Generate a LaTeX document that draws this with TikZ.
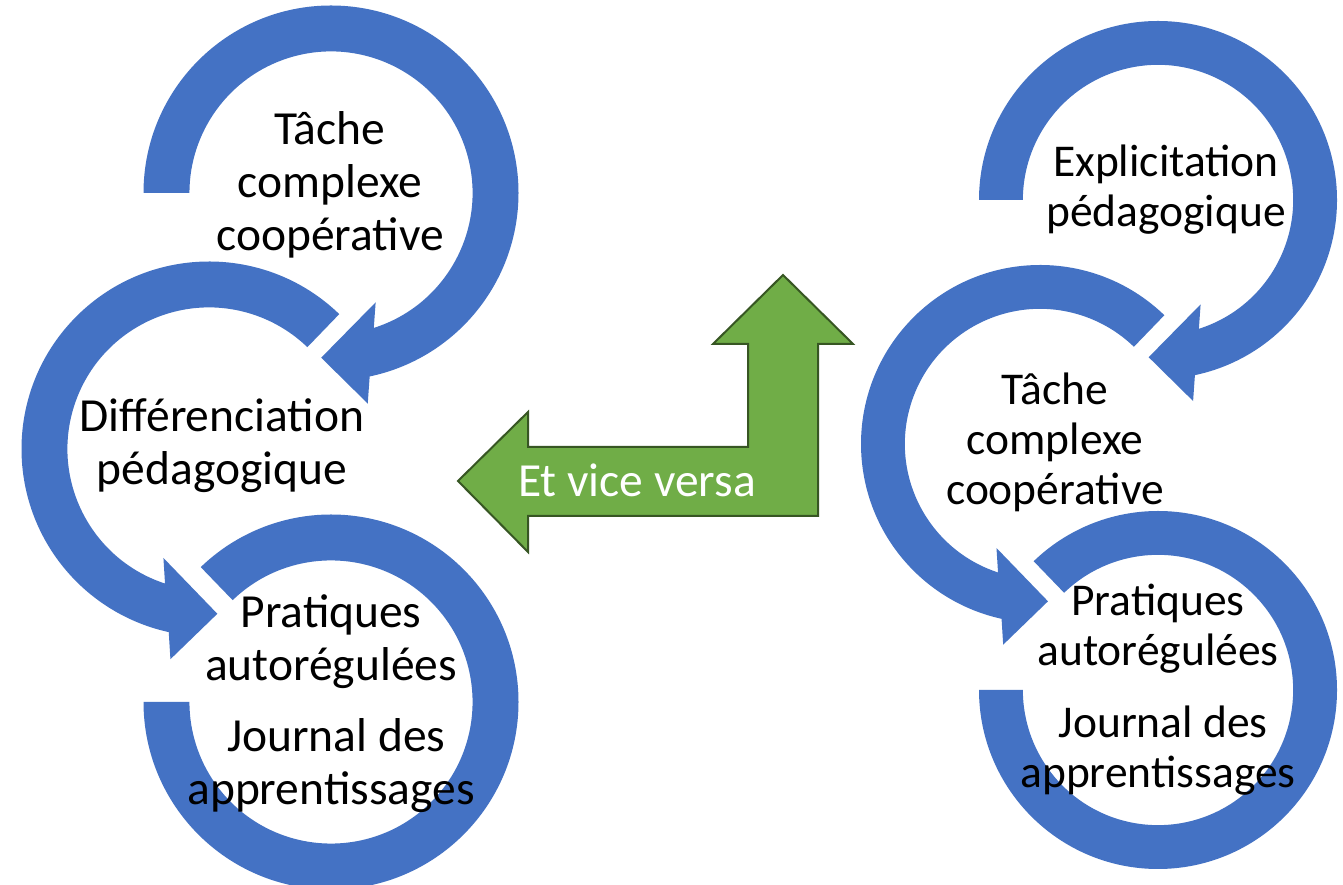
\documentclass[tikz,border=0pt]{standalone}
\usepackage{fontspec}
\setmainfont{Carlito}
\usetikzlibrary{calc}
\definecolor{ringblue}{HTML}{4472C4}
\definecolor{arrowgreen}{HTML}{70AD47}
\definecolor{arrowedge}{HTML}{375623}
\tikzstyle{ring}=[fill=ringblue]
\tikzstyle{bigtext}=[align=center,inner sep=0pt,font=\fontsize{47.5}{53}\selectfont]
\tikzstyle{smalltext}=[align=center,inner sep=0pt,font=\fontsize{45.5}{50}\selectfont]
\tikzstyle{bentarrow}=[fill=arrowgreen,draw=arrowedge,line width=2pt,line join=miter]

\begin{document}
\begin{tikzpicture}[x=1pt,y=1pt]
    \useasboundingbox (0,0) rectangle (1343,885);
    \fill[white] (0,0) rectangle (1343,885);

    % centres of the rings
    \foreach \x/\y/\name in {331/692/LT, 209/436/LM, 331/183/LB, 1158/685/RT, 1040/441/RM, 1158/195/RB}
        \coordinate (\name) at (\x,\y);

    % rings with a head
    \foreach \ctr/\R/\st/\hd/\dir in {LT/187.5/180/-78.1/-1, LM/187.5/46/257.6/1, RT/179/180/-78.1/-1, RM/179/46/257.6/1}
        \fill[ring] ($(\ctr)+(\st:\R)$) arc[start angle=\st, end angle=\hd, radius=\R]
            -- ($(\ctr)+({\hd+2*\dir}:{1.14*\R})$) -- ($(\ctr)+({\hd+15.3*\dir}:{0.88*\R})$)
            -- ($(\ctr)+({\hd-10.3*\dir}:{0.63*\R})$) -- ($(\ctr)+({\hd-5.7*\dir}:{0.755*\R})$)
            arc[start angle={\hd-5.7*\dir}, end angle=\st, radius={0.755*\R}] -- cycle;

    % last rings, no head
    \foreach \ctr/\R in {LB/187.5, RB/179}
        \fill[ring] ($(\ctr)+(180:\R)$) arc[start angle=180, end angle=494, radius=\R]
            -- ($(\ctr)+(494:{0.755*\R})$) arc[start angle=494, end angle=180, radius={0.755*\R}] -- cycle;

    % green arrow
    \draw[bentarrow] (458,404) -- (528,473) -- (528,438) -- (748,438) -- (748,541) -- (713,541)
        -- (783,610) -- (853,541) -- (818,541) -- (818,369) -- (528,369) -- (528,333) -- cycle;
    \node[font=\fontsize{47.5}{53}\selectfont,text=white,inner sep=0pt,anchor=base] (vice) at (637,388) {Et vice versa};

    % texts
    \node[bigtext] (tacheL) at (330,700) {Tâche\\complexe\\coopérative};
    \node[bigtext] (diffL) at (222,439.5) {Différenciation\\pédagogique};
    \node[bigtext] (pratL) at (331,243) {Pratiques\\autorégulées};
    \node[bigtext] (journL) at (331,119.5) {\ Journal des\\apprentissages};

    \node[smalltext] (explR) at (1166,695) {Explicitation\\pédagogique};
    \node[smalltext] (tacheR) at (1055,443) {Tâche\\complexe\\coopérative};
    \node[smalltext] (pratR) at (1158,256) {Pratiques\\autorégulées};
    \node[smalltext] (journR) at (1158,134.5) {\ Journal des\\apprentissages};
\end{tikzpicture}
\end{document}
